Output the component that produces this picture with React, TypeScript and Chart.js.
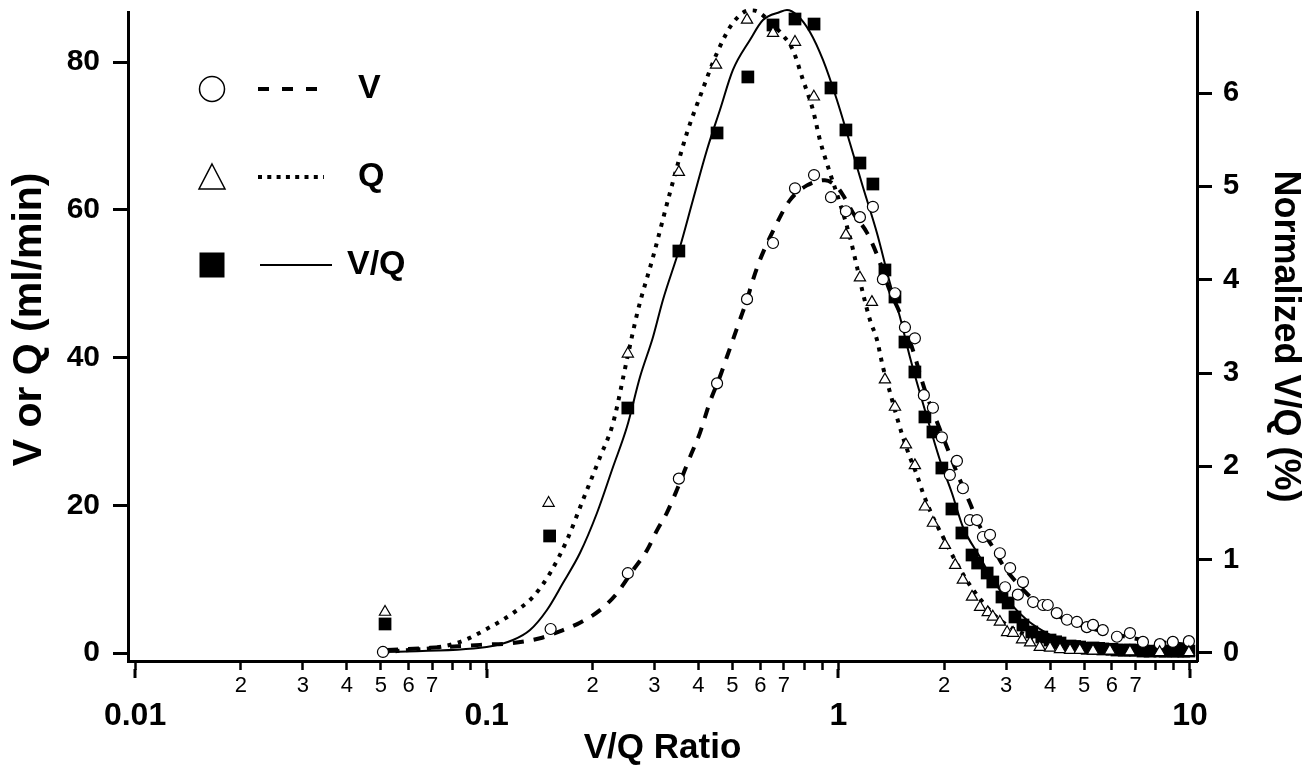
import React, { useEffect, useRef } from 'react';
import { Chart, registerables } from 'chart.js';

Chart.register(...registerables);

const FONT = '"Liberation Sans", Arial, Helvetica, sans-serif';

// ---- Data ----
// V (open circles), ml/min
const vPointX = [0.0507, 0.152, 0.252, 0.352, 0.452, 0.55, 0.652, 0.753, 0.853, 0.953, 1.051, 1.152, 1.254, 1.339, 1.449, 1.547, 1.651, 1.751, 1.858, 1.97, 2.076, 2.174, 2.261, 2.367, 2.478, 2.578, 2.7, 2.88, 2.98, 3.08, 3.24, 3.35, 3.58, 3.82, 3.94, 4.18, 4.47, 4.77, 5.09, 5.3, 5.65, 6.2, 6.75, 7.35, 8.21, 8.94, 9.93];
const vPointY = [0.14, 3.25, 10.8, 23.6, 36.5, 47.9, 55.5, 62.9, 64.7, 61.7, 59.8, 59.0, 60.4, 50.6, 48.7, 44.1, 42.6, 34.9, 33.2, 29.2, 24.1, 26.0, 22.3, 18.0, 18.0, 15.7, 16.0, 13.5, 8.9, 11.5, 7.9, 9.6, 6.9, 6.5, 6.5, 5.4, 4.5, 4.2, 3.5, 3.8, 3.1, 2.2, 2.7, 1.5, 1.2, 1.5, 1.6];

// Q (open triangles), ml/min
const qPointX = [0.0514, 0.15, 0.252, 0.352, 0.449, 0.55, 0.652, 0.753, 0.852, 1.051, 1.152, 1.246, 1.357, 1.449, 1.557, 1.651, 1.763, 1.858, 2.01, 2.15, 2.26, 2.4, 2.53, 2.66, 2.75, 2.88, 3.02, 3.14, 3.33, 3.51, 3.74, 4.0, 4.27, 4.56, 4.86, 5.3, 5.92, 6.75, 8.2, 9.93];
const qPointY = [5.55, 20.3, 40.5, 65.1, 79.6, 85.7, 83.9, 82.7, 75.3, 56.6, 50.8, 47.5, 37.0, 33.3, 28.2, 25.4, 19.8, 17.6, 14.6, 11.9, 9.9, 7.6, 6.2, 5.5, 4.9, 4.2, 2.8, 2.7, 1.8, 1.4, 0.8, 0.7, 0.5, 0.4, 0.4, 0.3, 0.3, 0.2, 0.1, 0.1];

// V/Q (filled squares), normalized %
const vqPointX = [0.0514, 0.151, 0.252, 0.352, 0.452, 0.553, 0.652, 0.753, 0.853, 0.953, 1.051, 1.152, 1.254, 1.357, 1.449, 1.547, 1.651, 1.763, 1.858, 1.97, 2.104, 2.246, 2.4, 2.49, 2.65, 2.75, 2.92, 3.04, 3.18, 3.35, 3.55, 3.79, 4.0, 4.15, 4.27, 4.56, 4.7, 4.86, 5.1, 5.3, 5.5, 5.65, 6.0, 6.2, 6.5, 6.75, 7.0, 7.35, 7.7, 8.21, 8.5, 8.94, 9.2, 9.6, 9.93];
const vqPointY = [0.311, 1.254, 2.625, 4.307, 5.572, 6.172, 6.729, 6.793, 6.739, 6.054, 5.604, 5.25, 5.025, 4.104, 3.814, 3.332, 3.011, 2.529, 2.368, 1.982, 1.543, 1.286, 1.05, 0.964, 0.857, 0.761, 0.6, 0.536, 0.386, 0.3, 0.225, 0.171, 0.139, 0.12, 0.107, 0.075, 0.07, 0.064, 0.05, 0.054, 0.05, 0.043, 0.04, 0.032, 0.03, 0.032, 0.03, 0.021, 0.02, 0.021, 0.02, 0.021, 0.02, 0.02, 0.021];

// Fitted curves
const vCurveX = [0.0521, 0.069, 0.0957, 0.1188, 0.1418, 0.1648, 0.1842, 0.21, 0.2348, 0.2606, 0.2857, 0.305, 0.3256, 0.3476, 0.3784, 0.4041, 0.4314, 0.4606, 0.4822, 0.5015, 0.525, 0.5497, 0.5718, 0.5986, 0.6691, 0.7286, 0.8143, 0.9163, 0.9909, 1.0306, 1.1003, 1.206, 1.2963, 1.4023, 1.4972, 1.6296, 1.7627, 1.907, 2.0361, 2.1738, 2.3671, 2.5274, 2.7519, 2.938, 3.2203, 3.6703, 4.2665, 5.0922, 5.9182, 7.347, 10];
const vCurveY = [0.4, 0.7, 1.1, 1.35, 2.0, 3.1, 4.1, 5.8, 8.1, 11.2, 13.9, 16.6, 19.0, 22.1, 26.5, 29.8, 34.0, 37.4, 40.1, 42.4, 45.1, 47.8, 50.5, 53.2, 58.2, 61.3, 63.3, 64.0, 63.1, 62.0, 59.6, 56.9, 53.6, 49.0, 46.0, 41.0, 35.6, 31.3, 27.9, 24.4, 20.3, 17.1, 14.3, 11.9, 9.5, 6.8, 4.9, 3.5, 2.7, 1.76, 1.08];

const qCurveX = [0.0514, 0.0823, 0.1022, 0.1188, 0.1354, 0.1514, 0.1692, 0.1878, 0.21, 0.2287, 0.2505, 0.2693, 0.2972, 0.332, 0.3711, 0.4041, 0.4516, 0.5015, 0.5606, 0.5908, 0.652, 0.696, 0.743, 0.7932, 0.847, 0.887, 0.9465, 1.0106, 1.0789, 1.1295, 1.1749, 1.23, 1.2878, 1.3394, 1.4023, 1.468, 1.5268, 1.5979, 1.6729, 1.7398, 1.8577, 1.9704, 2.1455, 2.398, 2.88, 4.0, 5.54, 10.33];
const qCurveY = [0.1, 1.35, 3.5, 5.4, 7.6, 10.8, 15.3, 20.7, 26.5, 31.1, 39.7, 46.4, 53.6, 62.3, 70.4, 75.3, 81.2, 85.3, 87.0, 86.8, 85.0, 83.6, 81.6, 77.6, 73.5, 69.4, 65.0, 60.9, 56.3, 52.3, 48.7, 45.1, 42.4, 38.7, 35.3, 31.9, 29.2, 26.5, 24.1, 21.7, 18.4, 16.0, 12.6, 8.8, 4.5, 1.35, 0.4, 0.1];

const vqCurveX = [0.0514, 0.1, 0.1188, 0.1328, 0.1484, 0.1648, 0.1842, 0.2059, 0.2287, 0.2505, 0.2729, 0.2972, 0.3171, 0.3545, 0.386, 0.423, 0.4606, 0.5015, 0.5606, 0.6105, 0.6823, 0.7145, 0.7627, 0.8304, 0.9044, 0.9909, 1.0789, 1.1749, 1.2878, 1.4023, 1.4972, 1.5979, 1.7061, 1.8215, 1.9448, 2.1038, 2.261, 2.527, 2.752, 3.076, 3.438, 3.918, 4.555, 5.543, 7.69, 10.33];
const vqCurveY = [0.011, 0.064, 0.139, 0.246, 0.461, 0.75, 1.071, 1.5, 1.993, 2.421, 2.957, 3.386, 3.782, 4.35, 4.854, 5.389, 5.818, 6.247, 6.568, 6.782, 6.868, 6.89, 6.836, 6.654, 6.354, 5.925, 5.464, 4.993, 4.5, 3.964, 3.6, 3.172, 2.786, 2.421, 2.068, 1.714, 1.35, 1.029, 0.782, 0.536, 0.354, 0.214, 0.107, 0.054, 0.021, 0.011];

// Axes
const xDecades = [0.01, 0.1, 1];
const xLastMajor = 10;
const xMinorMultipliers = [2, 3, 4, 5, 6, 7, 8, 9];
const xMinorLabelMax = 7;
const leftTicks = [0, 20, 40, 60, 80];
const rightTicks = [0, 1, 2, 3, 4, 5, 6];
const legendLabels = ['V', 'Q', 'V/Q'];
const xTitle = 'V/Q Ratio';
const yTitle = '   V or Q (ml/min)';
const y2Title = 'Normalized V/Q (%)';

const pairs = (xs: number[], ys: number[]) => xs.map((x, i) => ({ x, y: ys[i] }));

const buildXTicks = () => {
  const t: { value: number; major: boolean; mant: number }[] = [];
  xDecades.forEach((d) => {
    t.push({ value: d, major: true, mant: 1 });
    xMinorMultipliers.forEach((m) => t.push({ value: m * d, major: false, mant: m }));
  });
  t.push({ value: xLastMajor, major: true, mant: 1 });
  return t;
};

const legendPlugin = {
  id: 'vqLegend',
  afterDraw(chart: any) {
    const { ctx, chartArea } = chart;
    const L = chartArea.left;
    const T = chartArea.top;
    const rows = [T + 77, T + 165, T + 253];
    const mx = L + 84;
    ctx.save();
    ctx.strokeStyle = '#000';
    // circle
    ctx.lineWidth = 1.5;
    ctx.fillStyle = '#fff';
    ctx.beginPath();
    ctx.arc(mx, rows[0], 12.5, 0, Math.PI * 2);
    ctx.fill();
    ctx.stroke();
    // dashed
    ctx.lineWidth = 4;
    ctx.setLineDash([11, 13]);
    ctx.beginPath();
    ctx.moveTo(L + 130, rows[0]);
    ctx.lineTo(L + 193, rows[0]);
    ctx.stroke();
    // triangle
    ctx.setLineDash([]);
    ctx.lineWidth = 1.5;
    ctx.beginPath();
    ctx.moveTo(mx, rows[1] - 13);
    ctx.lineTo(mx + 13, rows[1] + 12);
    ctx.lineTo(mx - 13, rows[1] + 12);
    ctx.closePath();
    ctx.fill();
    ctx.stroke();
    // dotted
    ctx.lineWidth = 4;
    ctx.setLineDash([4, 5.3]);
    ctx.beginPath();
    ctx.moveTo(L + 130, rows[1]);
    ctx.lineTo(L + 196, rows[1]);
    ctx.stroke();
    // square
    ctx.setLineDash([]);
    ctx.fillStyle = '#000';
    ctx.fillRect(mx - 12.5, rows[2] - 12.5, 25, 25);
    // solid
    ctx.lineWidth = 2;
    ctx.beginPath();
    ctx.moveTo(L + 132, rows[2]);
    ctx.lineTo(L + 204, rows[2]);
    ctx.stroke();
    // labels
    ctx.font = `bold 34px ${FONT}`;
    ctx.textBaseline = 'middle';
    ctx.textAlign = 'left';
    ctx.fillText(legendLabels[0], L + 230, rows[0]);
    ctx.fillText(legendLabels[1], L + 230, rows[1]);
    ctx.fillText(legendLabels[2], L + 219, rows[2]);
    ctx.restore();
  },
};

const majorTickPlugin = {
  id: 'majorTicks',
  afterDraw(chart: any) {
    const xs = chart.scales.x;
    const ctx = chart.ctx;
    ctx.save();
    ctx.strokeStyle = '#000';
    ctx.lineWidth = 3;
    [...xDecades, xLastMajor].forEach((v) => {
      const px = Math.round(xs.getPixelForValue(v));
      ctx.beginPath();
      ctx.moveTo(px, xs.top + 8);
      ctx.lineTo(px, xs.top + 17);
      ctx.stroke();
    });
    ctx.restore();
  },
};

export default function App() {
  const ref = useRef<HTMLCanvasElement | null>(null);

  useEffect(() => {
    document.body.style.margin = '0';
    Chart.defaults.font.family = FONT;
    Chart.defaults.color = '#000';
    const canvas = ref.current;
    if (!canvas) return;

    const lineBase = {
      showLine: true,
      pointRadius: 0,
      pointHoverRadius: 0,
      borderColor: '#000',
      backgroundColor: '#000',
      fill: false,
      cubicInterpolationMode: 'monotone' as const,
      clip: false as const,
    };

    const chart = new Chart(canvas, {
      type: 'scatter',
      data: {
        datasets: [
          {
            label: 'Q points',
            data: pairs(qPointX, qPointY),
            yAxisID: 'y',
            pointStyle: 'triangle',
            pointRadius: 6.5,
            backgroundColor: '#fff',
            borderColor: '#000',
            borderWidth: 1.2,
            showLine: false,
            clip: false,
          },
          {
            label: 'V points',
            data: pairs(vPointX, vPointY),
            yAxisID: 'y',
            pointStyle: 'circle',
            pointRadius: 5.5,
            backgroundColor: '#fff',
            borderColor: '#000',
            borderWidth: 1.2,
            showLine: false,
            clip: false,
          },
          {
            label: 'V/Q points',
            data: pairs(vqPointX, vqPointY),
            yAxisID: 'y2',
            pointStyle: 'rect',
            pointRadius: 9,
            backgroundColor: '#000',
            borderColor: '#000',
            borderWidth: 0,
            showLine: false,
            clip: false,
          },
          {
            ...lineBase,
            label: 'V',
            data: pairs(vCurveX, vCurveY),
            yAxisID: 'y',
            borderWidth: 4,
            borderDash: [11, 10],
          },
          {
            ...lineBase,
            label: 'Q',
            data: pairs(qCurveX, qCurveY),
            yAxisID: 'y',
            borderWidth: 4,
            borderDash: [4, 6.5],
          },
          {
            ...lineBase,
            label: 'V/Q',
            data: pairs(vqCurveX, vqCurveY),
            yAxisID: 'y2',
            borderWidth: 2,
          },
        ],
      },
      options: {
        responsive: false,
        animation: false,
        events: [],
        layout: { padding: { top: 12, left: 0, right: 0, bottom: 0 } },
        plugins: {
          legend: { display: false },
          tooltip: { enabled: false },
        },
        scales: {
          x: {
            type: 'logarithmic',
            position: 'bottom',
            min: Math.pow(10, -2.02),
            max: Math.pow(10, 1.02),
            afterBuildTicks: (scale: any) => {
              scale.ticks = buildXTicks();
            },
            afterFit: (scale: any) => {
              scale.height = 109;
              scale.paddingLeft = 0;
              scale.paddingRight = 0;
              scale.paddingTop = 0;
              scale.paddingBottom = 0;
            },
            border: { display: true, color: '#000', width: 3 },
            grid: {
              display: true,
              drawOnChartArea: false,
              drawTicks: true,
              tickLength: 9,
              tickColor: '#000',
              tickWidth: 2.5,
            },
            ticks: {
              autoSkip: false,
              maxRotation: 0,
              minRotation: 0,
              padding: 3,
              color: '#000',
              font: (ctx: any) =>
                ctx.tick && ctx.tick.major
                  ? { family: FONT, size: 32, weight: 'bold', lineHeight: 0.9 }
                  : { family: FONT, size: 22, weight: 'normal', lineHeight: 1.2 },
              callback: (_v: any, i: number, ticks: any[]) => {
                const t = ticks[i];
                if (t.major) return ['', String(t.value)];
                return t.mant <= xMinorLabelMax ? String(t.mant) : '';
              },
            },
            title: {
              display: true,
              text: xTitle,
              color: '#000',
              font: { family: FONT, size: 35, weight: 'bold' },
              padding: { top: 0, bottom: 1 },
            },
          },
          y: {
            type: 'linear',
            position: 'left',
            min: -8 / 7.3875,
            max: 86.77,
            afterBuildTicks: (scale: any) => {
              scale.ticks = leftTicks.map((v) => ({ value: v }));
            },
            afterFit: (scale: any) => {
              scale.width = 128;
              scale.paddingTop = 0;
              scale.paddingBottom = 0;
              scale.paddingLeft = 0;
              scale.paddingRight = 0;
            },
            border: { display: true, color: '#000', width: 3 },
            grid: {
              display: true,
              drawOnChartArea: false,
              drawTicks: true,
              tickLength: 15,
              tickColor: '#000',
              tickWidth: 3,
            },
            ticks: {
              padding: 13,
              color: '#000',
              font: { family: FONT, size: 30, weight: 'bold' },
            },
            title: {
              display: true,
              text: yTitle,
              color: '#000',
              font: { family: FONT, size: 41, weight: 'bold' },
              padding: { top: 5, bottom: 0 },
            },
          },
          y2: {
            type: 'linear',
            position: 'right',
            min: -8 / 93.33,
            max: 6.868,
            afterBuildTicks: (scale: any) => {
              scale.ticks = rightTicks.map((v) => ({ value: v }));
            },
            afterFit: (scale: any) => {
              scale.width = 115;
              scale.paddingTop = 0;
              scale.paddingBottom = 0;
              scale.paddingLeft = 0;
              scale.paddingRight = 0;
            },
            border: { display: true, color: '#000', width: 3 },
            grid: {
              display: true,
              drawOnChartArea: false,
              drawTicks: true,
              tickLength: 15,
              tickColor: '#000',
              tickWidth: 3,
            },
            ticks: {
              padding: 11,
              color: '#000',
              font: { family: FONT, size: 29, weight: 'bold' },
            },
            title: {
              display: true,
              text: y2Title,
              color: '#000',
              font: { family: FONT, size: 36, weight: 'bold' },
              padding: { top: 5, bottom: 0 },
            },
          },
        },
      } as any,
      plugins: [legendPlugin, majorTickPlugin],
    });

    return () => {
      chart.destroy();
    };
  }, []);

  return (
    <div style={{ width: 1312, height: 770, position: 'relative' }}>
      <canvas ref={ref} width={1312} height={770} style={{ display: 'block' }} />
    </div>
  );
}
